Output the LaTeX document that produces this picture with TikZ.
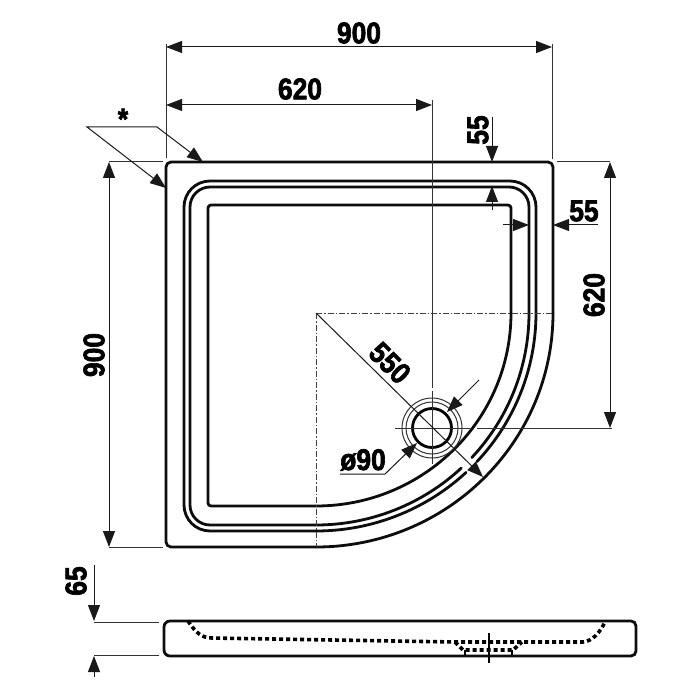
\documentclass[tikz,border=0pt]{standalone}
\usepackage{fontspec}
\setmainfont{Liberation Sans}
\newfontfamily\dimfont[FakeStretch=0.88,FakeBold=2.2]{Liberation Sans Bold}
\usetikzlibrary{arrows.meta,calc}
\def\traparc[#1](#2:#3:#4:#5){\draw[#1] ($(316,313)+({#4*cos(#2)},{#5*sin(#2)})$) arc (#2:#3:#4 and #5);}
\tikzset{
	thick line/.style={line width=2.8pt, color=black!95, line cap=round, line join=round},
	thin line/.style={line width=1pt, color=black!80},
	axis line/.style={line width=1pt, color=black!75, dash pattern=on 6pt off 2pt on 1.5pt off 2pt},
	hidden line/.style={line width=3.6pt, color=black, dash pattern=on 4pt off 3pt},
	dim tip/.style={-{Triangle[length=16pt,width=12pt]}, line width=1pt, color=black!90},
	dim tips/.style={{Triangle[length=16pt,width=12pt]}-{Triangle[length=16pt,width=12pt]}, line width=1pt, color=black!90},
	dim text/.style={font=\dimfont\fontsize{30}{30}\selectfont, inner sep=0pt}
}

\begin{document}
\begin{tikzpicture}[x=1pt, y=-1pt]
	\useasboundingbox (0, 0) rectangle (700, 700);
	
	%%%%% TOP VIEW %%%%%
	\draw[thick line] (553, 313) -- (553, 167) arc (0:-90:5) -- (171, 162) arc (270:180:5) -- (166, 542) arc (180:90:5) -- (316, 547);
	\traparc[thick line](0:90:237:234)
	
	\draw[thick line] (536, 313) -- (536, 207) arc (0:-90:26) -- (210, 181) arc (270:180:26) -- (184, 505) arc (180:90:26) -- (316, 531);
	\draw[thick line] (529, 313) -- (529, 207) arc (0:-90:20) -- (210, 187) arc (270:180:20) -- (190, 505) arc (180:90:20) -- (316, 525);
	\traparc[thick line](0:43:220:218)
	\traparc[thick line](47:90:220:218)
	\traparc[thick line](0:43:213:212)
	\traparc[thick line](47:90:213:212)
	
	\draw[thick line] (511, 313) -- (511, 208) arc (0:-90:3) -- (211, 205) arc (270:180:3) -- (208, 503) arc (180:90:3) -- (316, 506);
	\traparc[thick line](0:90:195:193)
	
	% axes of the quadrant
	\draw[axis line] (316, 313) -- (553, 313);
	\draw[axis line] (316, 313) -- (316, 547);
	
	% drain
	\draw[line width=2.8pt] (432, 428) circle (19.5);
	\draw[thin line] (432, 428) circle (26);
	\draw[thin line] (432, 428) circle (30);
	\draw[thin line] (395, 428) -- (470, 428);
	\draw[thin line] (432, 391) -- (432, 464);
	
	%%%%% DIMENSIONS %%%%%
	\draw[thin line] (166, 44) -- (166, 158);
	\draw[thin line] (552, 44) -- (552, 159);
	\draw[dim tips] (166, 47) -- (552, 47);
	\node[dim text] (size top) at (359, 33) {900};
	
	\draw[thin line] (432, 100) -- (432, 388);
	\draw[dim tips] (166, 105) -- (432, 105);
	\node[dim text] (offset top) at (300, 89) {620};
	
	\draw[thin line] (109, 162) -- (163, 162);
	\draw[thin line] (109, 547) -- (163, 547);
	\draw[dim tips] (109, 162) -- (109, 547);
	\node[dim text, rotate=90] (size left) at (94, 355) {900};
	
	\draw[thin line] (557, 162) -- (610, 162);
	\draw[thin line] (477, 428) -- (612, 428);
	\draw[dim tips] (610, 162) -- (610, 428);
	\node[dim text, rotate=90] (offset right) at (594, 295) {620};
	
	\draw[dim tip] (492, 117) -- (492, 162);
	\draw[dim tip] (492, 210) -- (492, 186);
	\node[dim text, rotate=90] (rim top) at (478, 130) {55};
	
	\draw[dim tip] (503, 225) -- (529, 225);
	\draw[dim tip] (598, 225) -- (553, 225);
	\node[dim text] (rim right) at (584, 211) {55};
	
	\draw[dim tip] (316, 313) -- (483, 477);
	\node[dim text, rotate=-45] (radius) at (390, 363) {550};
	
	\draw[dim tip] (479, 380) -- (447, 412);
	\draw[dim tip] (340, 474) -- (385, 474) -- (417, 443);
	\node[dim text] (drain size) at (363, 460) {ø90};
	
	\draw[dim tip] (157, 127) -- (203, 162);
	\draw[dim tip] (157, 127) -- (87, 127) -- (166, 188);
	\node[dim text] (star) at (123, 119) {*};
	
	%%%%% SIDE VIEW %%%%%
	\draw[line width=2.8pt, color=black!95] (170, 621) -- (631, 621) arc (-90:0:5) -- (636, 651) arc (0:90:5) -- (170, 656) arc (90:180:6) -- (164, 627) arc (180:270:6);
	\draw[hidden line] (188, 621) .. controls (196, 633) and (202, 638) .. (212, 638) -- (455, 642) -- (583, 642) .. controls (593, 641) and (600, 632) .. (605, 622);
	\draw[hidden line] (455, 642) -- (463, 650) -- (513, 650) -- (522, 642);
	\draw[line width=1.5pt] (465, 650) -- (465, 655);
	\draw[line width=1.5pt] (512, 650) -- (512, 655);
	\draw[line width=1.5pt] (489, 633) -- (489, 663);
	
	\draw[thin line] (94, 622) -- (159, 622);
	\draw[thin line] (94, 655) -- (159, 655);
	\draw[dim tip] (94, 565) -- (94, 621);
	\draw[dim tip] (94, 677) -- (94, 656);
	\node[dim text, rotate=90] (height) at (76, 581) {65};
\end{tikzpicture}
\end{document}
